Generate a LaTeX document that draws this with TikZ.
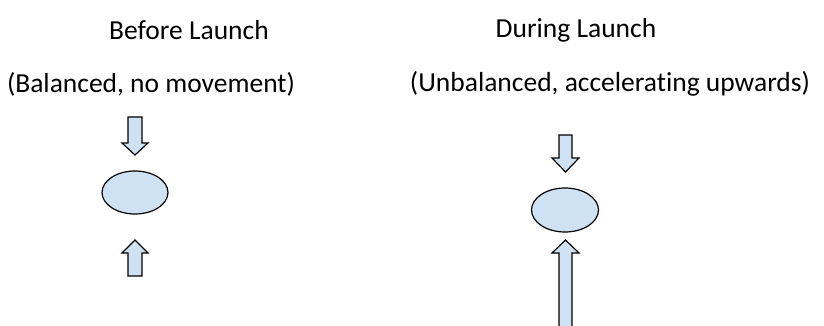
\documentclass[tikz,border=0pt]{standalone}
\usepackage{fontspec}
\setmainfont{Carlito}[Ligatures=NoCommon]
\usetikzlibrary{shapes.geometric}
\definecolor{lblue}{RGB}{207,226,243}
\begin{document}
\begin{tikzpicture}[x=1pt,y=-1pt,
  lbl/.style={inner sep=0pt,font=\fontsize{27.5}{32}\selectfont},
  body/.style={ellipse,draw,line width=1.2pt,fill=lblue,inner sep=0pt},
  farrow/.style={draw,line width=1.2pt,fill=lblue,line join=miter}]
\useasboundingbox (0,0) rectangle (824,326);
\node[lbl] (t1) at (189,30) {Before Launch};
\node[lbl] (s1) at (151,84) {(Balanced, no movement)};
\node[lbl] (t2) at (576,30) {During Launch};
\node[lbl] (s2) at (610,84) {(Unbalanced, accelerating upwards)};
\node[body,minimum width=66pt,minimum height=43pt] (e1) at (135,192.5) {};
\node[body,minimum width=67pt,minimum height=44pt] (e2) at (565,210) {};
% left down arrow
\path[farrow] (128,117) -- (142,117) -- (142,143) -- (148,143) -- (135,155) -- (122,143) -- (128,143) -- cycle;
% left up arrow
\path[farrow] (128,276) -- (142,276) -- (142,253) -- (148,253) -- (135,240) -- (122,253) -- (128,253) -- cycle;
% right down arrow
\path[farrow] (559,135) -- (572,135) -- (572,158) -- (579,158) -- (565.5,172) -- (552,158) -- (559,158) -- cycle;
% right up arrow
\path[farrow] (559,328) -- (559,253) -- (552,253) -- (565.5,240) -- (579,253) -- (572,253) -- (572,328);
\end{tikzpicture}
\end{document}
